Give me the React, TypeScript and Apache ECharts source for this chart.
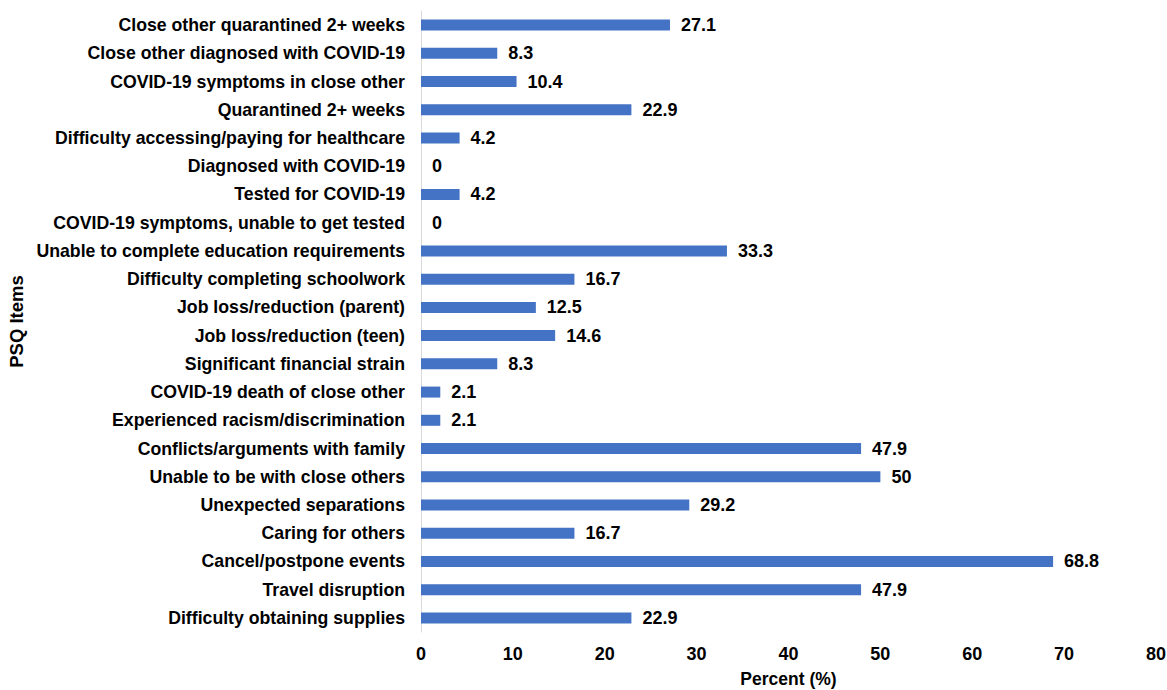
import React, { useEffect, useRef } from "react";
import * as echarts from "echarts";

const categories = [
  "Difficulty obtaining supplies",
  "Travel disruption",
  "Cancel/postpone events",
  "Caring for others",
  "Unexpected separations",
  "Unable to be with close others",
  "Conflicts/arguments with family",
  "Experienced racism/discrimination",
  "COVID-19 death of close other",
  "Significant financial strain",
  "Job loss/reduction (teen)",
  "Job loss/reduction (parent)",
  "Difficulty completing schoolwork",
  "Unable to complete education requirements",
  "COVID-19 symptoms, unable to get tested",
  "Tested for COVID-19",
  "Diagnosed with COVID-19",
  "Difficulty accessing/paying for healthcare",
  "Quarantined 2+ weeks",
  "COVID-19 symptoms in close other",
  "Close other diagnosed with COVID-19",
  "Close other quarantined 2+ weeks",
];

const percents = [
  22.9, 47.9, 68.8, 16.7, 29.2, 50, 47.9, 2.1, 2.1, 8.3, 14.6, 12.5, 16.7, 33.3,
  0, 4.2, 0, 4.2, 22.9, 10.4, 8.3, 27.1,
];

const xTicks = { min: 0, max: 80, interval: 10 };
const xAxisTitle = "Percent (%)";
const yAxisTitle = "PSQ Items";

const FONT = "'Liberation Sans', Arial, sans-serif";

export default function App() {
  const ref = useRef<HTMLDivElement>(null);
  useEffect(() => {
    if (!ref.current) return;
    const chart = echarts.init(ref.current, undefined, { renderer: "svg" });
    chart.setOption({
      animation: false,
      backgroundColor: "#ffffff",
      textStyle: { fontFamily: FONT },
      grid: {
        left: 421,
        right: 11,
        top: 11,
        bottom: 58,
        containLabel: false,
        outerBoundsMode: "none",
      },
      xAxis: {
        type: "value",
        min: xTicks.min,
        max: xTicks.max,
        interval: xTicks.interval,
        splitLine: { show: false },
        axisLine: { show: false },
        axisTick: { show: false },
        axisLabel: {
          color: "#000",
          fontWeight: "bold",
          fontSize: 18,
          fontFamily: FONT,
          margin: 13,
        },
        name: xAxisTitle,
        nameLocation: "middle",
        nameGap: 38,
        nameTextStyle: {
          color: "#000",
          fontWeight: "bold",
          fontSize: 17.5,
          fontFamily: FONT,
          lineHeight: 18,
        },
      },
      yAxis: {
        type: "category",
        data: categories,
        axisLine: { show: true, lineStyle: { color: "#d9d9d9", width: 1 } },
        axisTick: { show: false },
        splitLine: { show: false },
        axisLabel: {
          color: "#000",
          fontWeight: "bold",
          fontSize: 17.7,
          fontFamily: FONT,
          margin: 16,
        },
        name: yAxisTitle,
        nameLocation: "middle",
        nameGap: 393,
        nameRotate: 90,
        nameTextStyle: {
          color: "#000",
          fontWeight: "bold",
          fontSize: 18.5,
          fontFamily: FONT,
        },
      },
      series: [
        {
          type: "bar",
          data: percents,
          barWidth: 11,
          itemStyle: { color: "#4472C4" },
          label: {
            show: true,
            position: "right",
            distance: 11,
            color: "#000",
            fontWeight: "bold",
            fontSize: 18,
            fontFamily: FONT,
          },
        },
      ],
    });
    return () => chart.dispose();
  }, []);
  return (
    <div
      ref={ref}
      style={{ position: "fixed", left: 0, top: 0, width: 1167, height: 690 }}
    />
  );
}
